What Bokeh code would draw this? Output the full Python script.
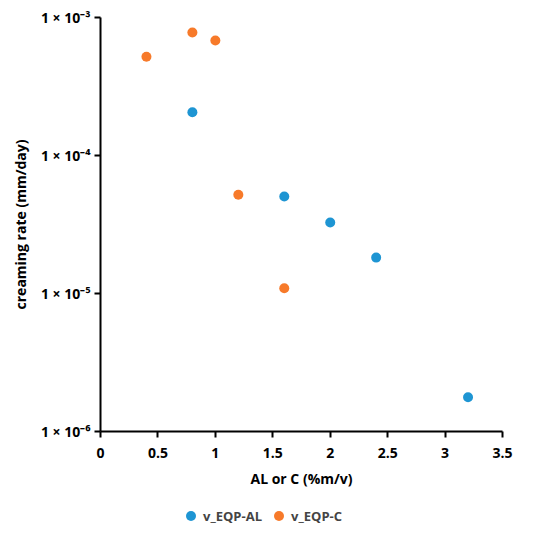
from bokeh.plotting import figure
from bokeh.models import FixedTicker, Range1d, Legend, LegendItem
from bokeh.layouts import column
from bokeh.embed import file_html
from bokeh.resources import INLINE

al_x = [0.8, 1.6, 2.0, 2.4, 3.2]
al_y = [2.06e-4, 5.05e-5, 3.27e-5, 1.82e-5, 1.77e-6]
c_x = [0.4, 0.8, 1.0, 1.2, 1.6]
c_y = [5.19e-4, 7.78e-4, 6.81e-4, 5.19e-5, 1.09e-5]

series_names = ["v_EQP-AL", "v_EQP-C"]
series_colors = ["#1E95D3", "#F77A2A"]

x_ticks = [0, 0.5, 1, 1.5, 2, 2.5, 3, 3.5]
x_labels = ["0", "0.5", "1", "1.5", "2", "2.5", "3", "3.5"]
y_ticks = [1e-6, 1e-5, 1e-4, 1e-3]
y_labels = ["1 × 10⁻⁶", "1 × 10⁻⁵", "1 × 10⁻⁴", "1 × 10⁻³"]

FONT = "Open Sans"

p = figure(width=534, height=500, output_backend="svg", toolbar_location=None,
           y_axis_type="log", x_range=Range1d(0, 3.5), y_range=Range1d(1e-6, 1e-3),
           min_border_left=100, min_border_right=32, min_border_top=17, min_border_bottom=69)
p.outline_line_color = None
p.grid.visible = False

p.scatter(al_x, al_y, size=10, color=series_colors[0], line_color=None)
p.scatter(c_x, c_y, size=10, color=series_colors[1], line_color=None)

p.xaxis.ticker = FixedTicker(ticks=x_ticks)
p.xaxis.major_label_overrides = {t: l for t, l in zip(x_ticks, x_labels)}
p.yaxis.ticker = FixedTicker(ticks=y_ticks, minor_ticks=[])
p.yaxis.major_label_overrides = {t: l for t, l in zip(y_ticks, y_labels)}

for ax in (p.xaxis, p.yaxis):
    ax.axis_line_width = 2
    ax.axis_line_color = "black"
    ax.major_tick_line_width = 2
    ax.major_tick_line_color = "black"
    ax.major_tick_in = 0
    ax.major_tick_out = 6
    ax.minor_tick_line_color = None
    ax.major_label_text_font = FONT
    ax.major_label_text_font_style = "bold"
    ax.major_label_text_font_size = "14px"
    ax.major_label_text_color = "black"
    ax.axis_label_text_font = FONT
    ax.axis_label_text_font_style = "bold"
    ax.axis_label_text_font_size = "14px"
    ax.axis_label_text_color = "black"

p.xaxis.axis_label = "AL or C (%m/v)"
p.yaxis.axis_label = "creaming rate (mm/day)"
p.yaxis.major_label_standoff = 4
p.xaxis.major_label_standoff = 10
p.xaxis.axis_label_standoff = 8
p.yaxis.axis_label_standoff = 8

# legend strip (its own renderers hold the same series, outside its visible range)
p2 = figure(width=534, height=30, output_backend="svg", toolbar_location=None,
            x_range=Range1d(0, 1), y_range=Range1d(10, 11),
            x_axis_location=None, y_axis_location=None, min_border=0)
p2.outline_line_color = None
p2.grid.visible = False
lr = [p2.scatter(x=xs, y=ys, size=10, color=c, line_color=None)
      for xs, ys, c in zip([al_x, c_x], [al_y, c_y], series_colors)]

legend = Legend(items=[LegendItem(label=n, renderers=[r], index=0) for n, r in zip(series_names, lr)],
                orientation="horizontal", location=(78, 2),
                label_text_font=FONT, label_text_font_style="bold",
                label_text_font_size="13px", border_line_color=None,
                background_fill_alpha=0, spacing=4, glyph_width=25, glyph_height=25,
                label_standoff=0, margin=0, padding=0)
p2.add_layout(legend, "center")

open("out.html", "w").write(file_html(column(p, p2, spacing=0), INLINE))
